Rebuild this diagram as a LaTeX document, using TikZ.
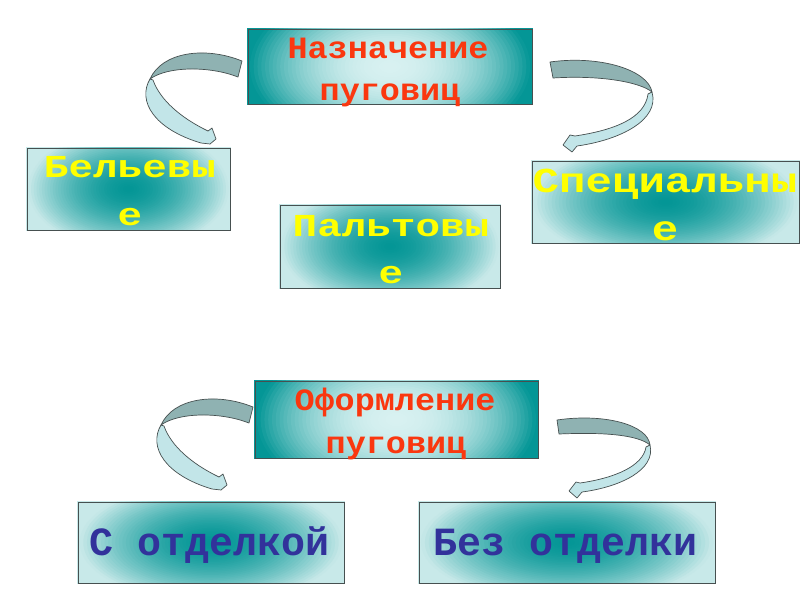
\documentclass[tikz,border=0pt]{standalone}
\usepackage{fontspec}
\usetikzlibrary{backgrounds}
\setmonofont{Liberation Mono}
\newfontfamily\titlefont[FakeStretch=1.08]{Liberation Mono}
\newfontfamily\catfont[FakeStretch=1.28]{Liberation Mono}
\newfontfamily\specfont[FakeStretch=1.26]{Liberation Mono}
\newfontfamily\botfont{Liberation Mono}
\definecolor{tdark}{RGB}{4,150,150}
\definecolor{tlight}{RGB}{216,241,241}
\definecolor{clight}{RGB}{200,233,233}
\definecolor{bandback}{RGB}{143,178,178}
\definecolor{bandfront}{RGB}{194,229,232}
\definecolor{edgegray}{RGB}{70,80,80}
\definecolor{redtxt}{RGB}{250,55,15}
\definecolor{yeltxt}{RGB}{255,255,0}
\definecolor{bluetxt}{RGB}{50,50,155}
\pgfdeclarelayer{bottom}
\pgfsetlayers{bottom,background,main}
% elliptical radial gradient inside a node:
% node, width, height, inner colour, outer colour, exponent, vertical factor
\newcommand\ellgrad[7]{%
  \begin{scope}
  \clip (#1.south west) rectangle (#1.north east);
  \foreach \i in {60,59,...,1}{%
    \pgfmathsetmacro\rr{1.6*\i/60}%
    \pgfmathsetmacro\pp{min(100,100*(\rr^#6))}%
    \pgfmathsetmacro\rx{\rr*#2/2}%
    \pgfmathsetmacro\ry{\rr*#3/2*#7}%
    \fill[#5!\pp!#4] (#1.center) ellipse [x radius=\rx, y radius=\ry];
  }
  \end{scope}}
\tikzset{
  titlebox/.style={rectangle, draw=edgegray, line width=0.9pt, inner sep=0pt},
  catbox/.style={rectangle, draw=edgegray, line width=0.9pt, inner sep=0pt},
  titletext/.style={anchor=base, inner sep=0pt, text=redtxt, font=\titlefont\bfseries\fontsize{31}{40}\selectfont},
  cattext/.style={anchor=base, inner sep=0pt, text=yeltxt, font=\catfont\bfseries\fontsize{32}{40}\selectfont},
  spectext/.style={anchor=base, inner sep=0pt, text=yeltxt, font=\specfont\bfseries\fontsize{35}{40}\selectfont},
  bottext/.style={anchor=base, inner sep=0pt, text=bluetxt, font=\botfont\bfseries\fontsize{40}{40}\selectfont},
  back/.style={fill=bandback, draw=edgegray, line width=0.7pt, line join=round},
  front/.style={fill=bandfront, draw=edgegray, line width=0.7pt, line join=round}
}
\begin{document}
\begin{tikzpicture}[x=1pt,y=-1pt]
\useasboundingbox (0,0) rectangle (800,600);
\begin{pgfonlayer}{bottom}
\fill[white] (0,0) rectangle (800,600);
\end{pgfonlayer}

% boxes
\node[titlebox, minimum width=284pt, minimum height=75pt] (nazn) at (390,66.5) {};
\node[catbox, minimum width=203pt, minimum height=82pt] (bel) at (128.5,189) {};
\node[catbox, minimum width=267pt, minimum height=82pt] (spec) at (665.5,202) {};
\node[catbox, minimum width=220pt, minimum height=83pt] (palt) at (390,246.5) {};
\node[titlebox, minimum width=283pt, minimum height=77pt] (oform) at (396.5,419.5) {};
\node[catbox, minimum width=266pt, minimum height=81pt] (sotd) at (211,542.5) {};
\node[catbox, minimum width=296pt, minimum height=81pt] (bezotd) at (567,542.5) {};

\begin{pgfonlayer}{background}
\ellgrad{nazn}{284}{75}{tlight}{tdark}{2.2}{2.2}
\ellgrad{oform}{283}{77}{tlight}{tdark}{2.2}{2.2}
\ellgrad{bel}{203}{82}{tdark}{clight}{1.7}{1.5}
\ellgrad{spec}{267}{82}{tdark}{clight}{1.7}{1.5}
\ellgrad{palt}{220}{83}{tdark}{clight}{1.7}{1.5}
\ellgrad{sotd}{266}{81}{tdark}{clight}{1.7}{1.5}
\ellgrad{bezotd}{296}{81}{tdark}{clight}{1.7}{1.5}
\end{pgfonlayer}

% texts
\node[titletext] (nazn1) at (388,58) {Назначение};
\node[titletext] (nazn2) at (390,100) {пуговиц};
\node[cattext] (bel1) at (130,177) {Бельевы};
\node[cattext] (bel2) at (130,225) {е};
\node[spectext] (spec1) at (665,192) {Специальны};
\node[spectext] (spec2) at (665,240) {е};
\node[cattext] (palt1) at (391,236) {Пальтовы};
\node[cattext] (palt2) at (391,283) {е};
\node[titletext] (oform1) at (395,410) {Оформление};
\node[titletext] (oform2) at (396,453) {пуговиц};
\node[bottext] (sotd1) at (210,555) {С отделкой};
\node[bottext] (bezotd1) at (566,555) {Без отделки};

% ribbon arrows: top left
\begin{scope}
\path[front] (150,79) .. controls (137,101) and (154,129) .. (201,143)
  -- (210,144) -- (216,139) -- (212,128) -- (208,131)
  .. controls (181,118) and (160,100) .. (153,80) -- cycle;
\path[back] (242,61) .. controls (205,46) and (162,52) .. (150,79)
  .. controls (168,66) and (210,66) .. (238,77) -- cycle;
\end{scope}
% bottom left
\begin{scope}[shift={(11,346)}]
\path[front] (150,79) .. controls (137,101) and (154,129) .. (201,143)
  -- (210,144) -- (216,139) -- (212,128) -- (208,131)
  .. controls (181,118) and (160,100) .. (153,80) -- cycle;
\path[back] (242,61) .. controls (205,46) and (162,52) .. (150,79)
  .. controls (168,66) and (210,66) .. (238,77) -- cycle;
\end{scope}
% top right
\path[front] (652,92) .. controls (660,120) and (620,140) .. (577,146)
  -- (572,152) -- (563,145) -- (570,135) -- (575,136)
  .. controls (615,130) and (645,118) .. (648,94) -- cycle;
\path[back] (550,62) .. controls (600,55) and (648,70) .. (652,92)
  .. controls (640,82) and (600,75) .. (553,78) -- cycle;
% bottom right
\path[front] (650,445) .. controls (656,470) and (620,487) .. (582,492)
  -- (577,498) -- (569,491) -- (576,482) -- (580,483)
  .. controls (615,478) and (643,466) .. (646,447) -- cycle;
\path[back] (557,420) .. controls (605,413) and (648,425) .. (650,445)
  .. controls (638,435) and (605,432) .. (559,434) -- cycle;
\end{tikzpicture}
\end{document}
